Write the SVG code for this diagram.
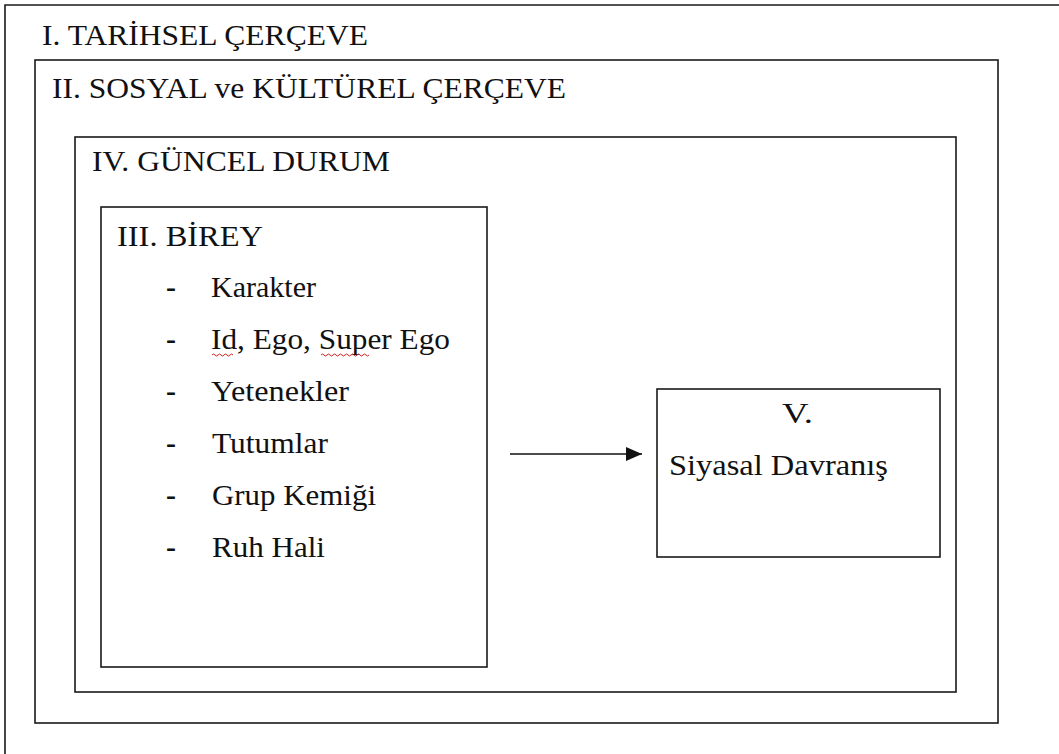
<svg xmlns="http://www.w3.org/2000/svg" width="1059" height="754" viewBox="0 0 1059 754">
  <style>
    .frame { fill: none; stroke: #1a1a1a; stroke-width: 1.6; }
    .t { font-family: "Liberation Serif", "Times New Roman", serif; font-size: 30px; fill: #111; }
    .dash { font-weight: bold; }
    .edge { stroke: #111; stroke-width: 1.6; fill: none; }
    .squig { stroke: #d02020; stroke-width: 1; fill: none; }
  </style>
  <defs>
    <marker id="arrow" markerWidth="16" markerHeight="14" refX="16" refY="7" orient="auto" markerUnits="userSpaceOnUse">
      <path d="M0,0 L16,7 L0,14 Z" fill="#111"/>
    </marker>
  </defs>
  <rect width="1059" height="754" fill="#fff"/>

  <g id="tarihsel">
    <path class="frame" d="M1059,5 H5 V754"/>
    <text class="t" x="42" y="45" textLength="326" lengthAdjust="spacingAndGlyphs">I. TARİHSEL ÇERÇEVE</text>
  </g>

  <g id="sosyal">
    <rect class="frame" x="35" y="60" width="963" height="663"/>
    <text class="t" x="52" y="98" textLength="514" lengthAdjust="spacingAndGlyphs">II. SOSYAL ve KÜLTÜREL ÇERÇEVE</text>
  </g>

  <g id="guncel">
    <rect class="frame" x="75" y="137" width="881" height="555"/>
    <text class="t" x="92" y="171" textLength="298" lengthAdjust="spacingAndGlyphs">IV. GÜNCEL DURUM</text>
  </g>

  <g id="birey">
    <rect class="frame" x="101" y="207" width="386" height="460"/>
    <text class="t" x="117" y="246" textLength="146" lengthAdjust="spacingAndGlyphs">III. BİREY</text>
    <g class="t">
      <text class="dash" x="166" y="297">-</text><text x="211" y="297" textLength="105" lengthAdjust="spacingAndGlyphs">Karakter</text>
      <text class="dash" x="166" y="349">-</text><text x="211" y="349" textLength="239" lengthAdjust="spacingAndGlyphs">Id, Ego, Super Ego</text>
      <text class="dash" x="166" y="401">-</text><text x="211" y="401" textLength="138" lengthAdjust="spacingAndGlyphs">Yetenekler</text>
      <text class="dash" x="166" y="453">-</text><text x="212" y="453" textLength="116" lengthAdjust="spacingAndGlyphs">Tutumlar</text>
      <text class="dash" x="166" y="505">-</text><text x="212" y="505" textLength="164" lengthAdjust="spacingAndGlyphs">Grup Kemiği</text>
      <text class="dash" x="166" y="557">-</text><text x="212" y="557" textLength="113" lengthAdjust="spacingAndGlyphs">Ruh Hali</text>
    </g>
    <path class="squig" d="M212,355 q1.5,-2 3,0 t3,0 t3,0 t3,0 t3,0 t3,0 t3,0"/>
    <path class="squig" d="M321,355 q1.5,-2 3,0 t3,0 t3,0 t3,0 t3,0 t3,0 t3,0 t3,0 t3,0 t3,0 t3,0 t3,0 t3,0 t3,0 t3,0 t3,0"/>
  </g>

  <g id="siyasal">
    <rect class="frame" x="657" y="389" width="283" height="168"/>
    <text class="t" x="782" y="423" textLength="31" lengthAdjust="spacingAndGlyphs">V.</text>
    <text class="t" x="669" y="475" textLength="219" lengthAdjust="spacingAndGlyphs">Siyasal Davranış</text>
  </g>

  <g id="connectors">
    <line class="edge" x1="510" y1="454" x2="642" y2="454" marker-end="url(#arrow)"/>
  </g>
</svg>
